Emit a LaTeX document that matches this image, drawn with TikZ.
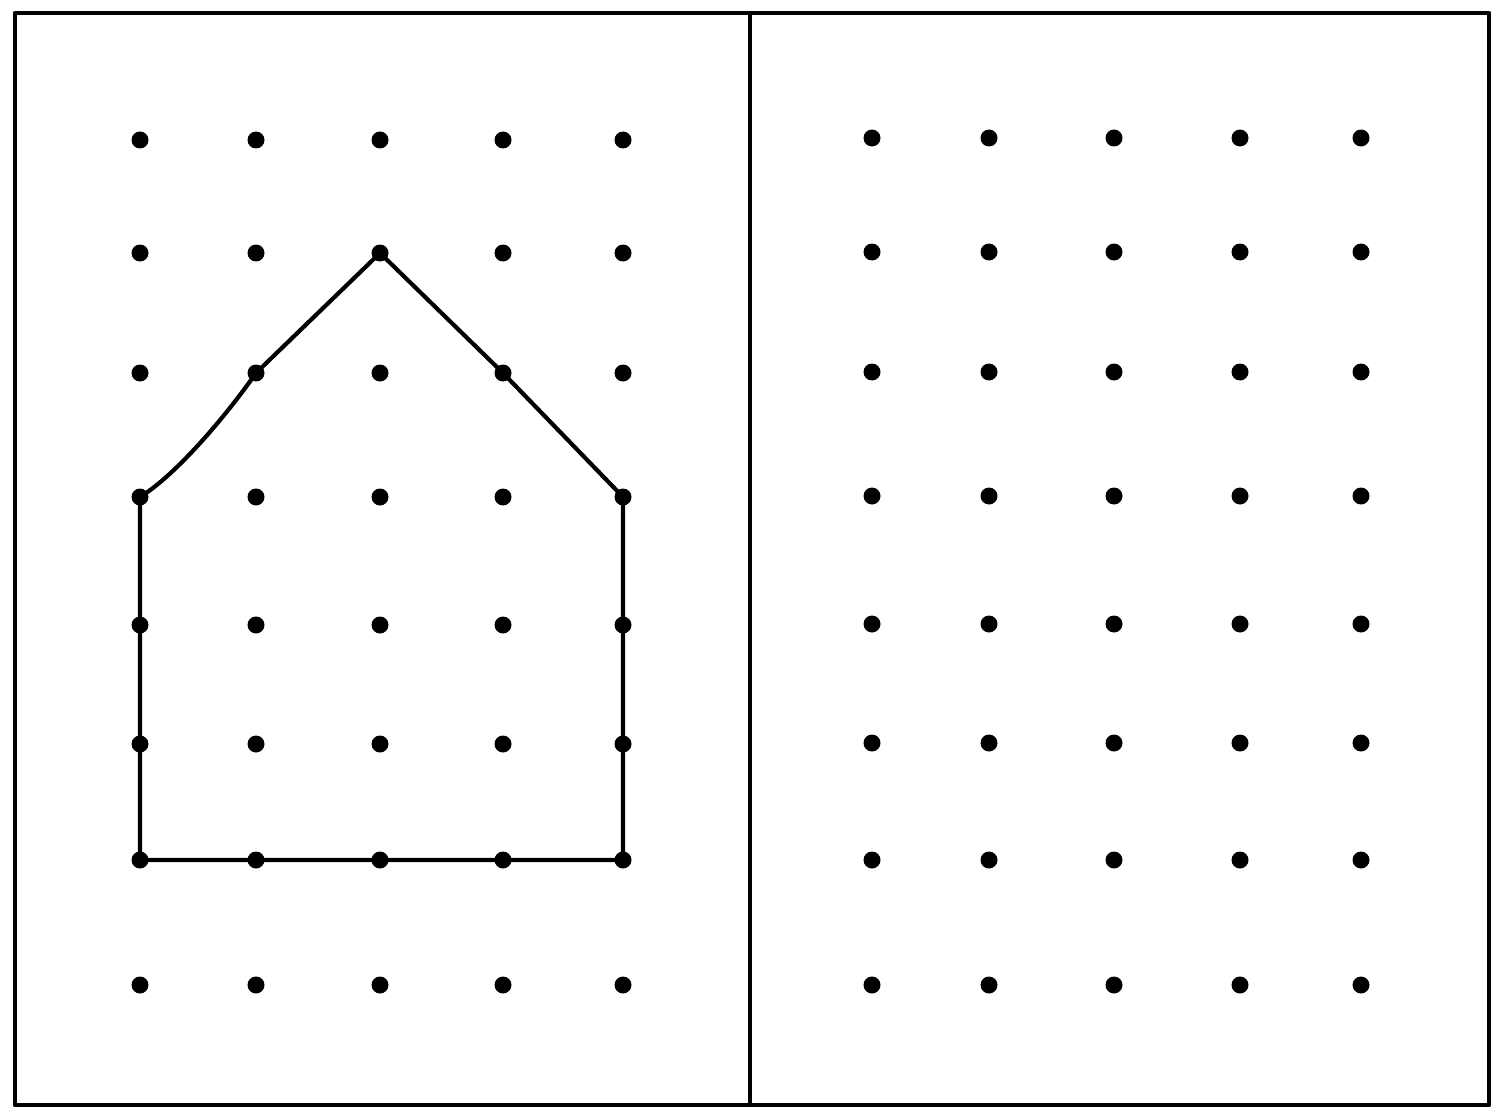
\documentclass[tikz,border=0pt]{standalone}
\begin{document}
\begin{tikzpicture}[x=1pt,y=-1pt,
  dotnode/.style={circle,fill=black,inner sep=0pt,minimum size=17pt},
  frameline/.style={line width=4.5pt,line join=round},
  houseline/.style={line width=4.2pt,line join=round,line cap=round}]
\useasboundingbox (0,0) rectangle (1499,1110);
\fill[white] (0,0) rectangle (1499,1110);
% frame
\coordinate (TL) at (15,13);
\coordinate (TR) at (1489,13);
\coordinate (BR) at (1489,1105);
\coordinate (BL) at (15,1105);
\coordinate (MT) at (750,13);
\coordinate (MB) at (750,1105);
\draw[frameline] (TL) -- (TR) -- (BR) -- (BL) -- cycle;
\draw[frameline] (MT) -- (MB);
% dot grids
\foreach \c/\x in {1/140,2/256,3/380,4/503,5/623}{
  \foreach \r/\y in {1/140,2/253,3/373,4/497,5/625,6/744,7/860,8/985}{
    \node[dotnode] (L-\c-\r) at (\x,\y) {};
  }
}
\foreach \c/\x in {1/872,2/989,3/1114,4/1240,5/1361}{
  \foreach \r/\y in {1/138,2/252,3/372,4/496,5/624,6/743,7/860,8/985}{
    \node[dotnode] (R-\c-\r) at (\x,\y) {};
  }
}
% house
\draw[houseline] (L-1-4.center) .. controls (176,475) and (226,416) .. (L-2-3.center)
  -- (L-3-2.center) -- (L-4-3.center) -- (L-5-4.center) -- (L-5-5.center)
  -- (L-5-6.center) -- (L-5-7.center) -- (L-4-7.center) -- (L-3-7.center)
  -- (L-2-7.center) -- (L-1-7.center) -- (L-1-6.center) -- (L-1-5.center) -- cycle;
\end{tikzpicture}
\end{document}
